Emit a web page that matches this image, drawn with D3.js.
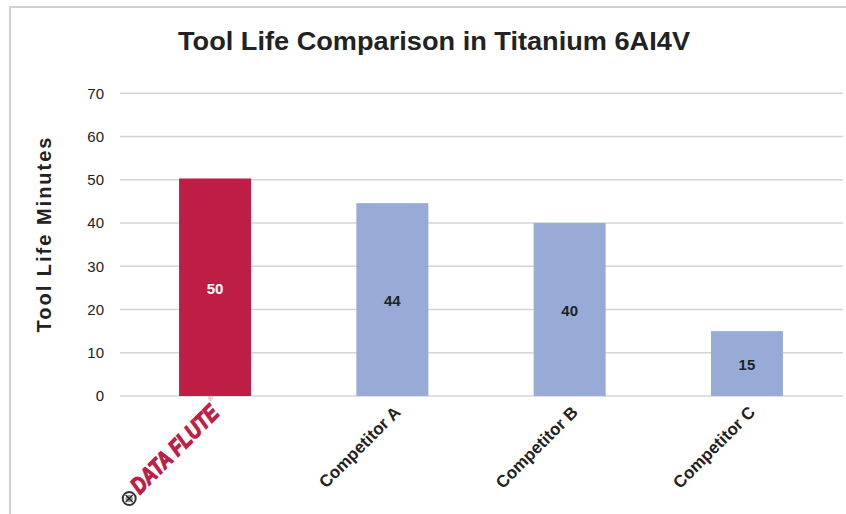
<!DOCTYPE html>
<html>
<head>
<meta charset="utf-8">
<script src="https://cdn.jsdelivr.net/npm/d3@7"></script>
<style>
  html, body { margin: 0; padding: 0; background: #fff; }
  svg { display: block; font-family: "Liberation Sans", Arial, sans-serif; }
</style>
</head>
<body>
<div id="container"></div>
<script>
const categories = ["DATA FLUTE", "Competitor A", "Competitor B", "Competitor C"];
const values = [50.3, 44.6, 40, 15];
const valueLabels = ["50", "44", "40", "15"];
const yTicks = [0, 10, 20, 30, 40, 50, 60, 70];

const width = 846;
const height = 514;
const red = "#be1d46";
const blue = "#97abd6";

const svg = d3.select("#container")
  .append("svg")
  .attr("width", width)
  .attr("height", height);

// frame
svg.append("path")
  .attr("d", "M10,514 V7 H846")
  .attr("fill", "none")
  .attr("stroke", "#d2d2d2")
  .attr("stroke-width", 2);

const x = d3.scaleBand()
  .domain(categories)
  .range([126.4, 835.6])
  .padding(0);

const y = d3.scaleLinear()
  .domain([0, 70])
  .range([396, 93.3]);

// gridlines
svg.append("g")
  .selectAll("line")
  .data(yTicks)
  .join("line")
  .attr("x1", 120)
  .attr("x2", 843)
  .attr("y1", d => y(d))
  .attr("y2", d => y(d))
  .attr("stroke", "#d4d4d4")
  .attr("stroke-width", 1.5);

// y tick labels
svg.append("g")
  .selectAll("text")
  .data(yTicks)
  .join("text")
  .attr("x", 104)
  .attr("y", d => y(d))
  .attr("dy", "0.36em")
  .attr("text-anchor", "end")
  .attr("font-size", 15)
  .attr("fill", "#222")
  .text(d => d);

// bars
const bw = x.bandwidth() * 0.406;
svg.append("g")
  .selectAll("rect")
  .data(values)
  .join("rect")
  .attr("x", (d, i) => x(categories[i]) + (x.bandwidth() - bw) / 2)
  .attr("y", d => y(d))
  .attr("width", bw)
  .attr("height", d => y(0) - y(d))
  .attr("fill", (d, i) => i === 0 ? red : blue);

// value labels
svg.append("g")
  .selectAll("text")
  .data(values)
  .join("text")
  .attr("x", (d, i) => x(categories[i]) + x.bandwidth() / 2)
  .attr("y", d => (y(d) + y(0)) / 2 + 1)
  .attr("dy", "0.36em")
  .attr("text-anchor", "middle")
  .attr("font-size", 15)
  .attr("font-weight", "bold")
  .attr("fill", (d, i) => i === 0 ? "#fff" : "#222")
  .text((d, i) => valueLabels[i]);

// x labels (rotated)
const xl = svg.append("g");
categories.forEach((c, i) => {
  const cx = x(c) + x.bandwidth() / 2;
  if (i === 0) {
    // logo-style label for the first bar
    const g = xl.append("g")
      .attr("transform", `translate(${cx - 1},${y(0) + 12}) rotate(-45)`);
    g.append("text")
      .attr("text-anchor", "end")
      .attr("font-size", 23)
      .attr("font-weight", "900")
      .attr("font-style", "italic")
      .attr("fill", red)
      .attr("stroke", red)
      .attr("stroke-width", 1.3)
      .attr("textLength", 114)
      .attr("lengthAdjust", "spacingAndGlyphs")
      .attr("y", 9)
      .text("DATA FLUTE");
    g.append("text")
      .attr("x", 2)
      .attr("y", -7)
      .attr("font-size", 7)
      .attr("fill", "#e08aa0")
      .text("®");
    const icon = g.append("g").attr("transform", "translate(-124,4)");
    icon.append("circle").attr("r", 6.5).attr("fill", "#fff").attr("stroke", "#333").attr("stroke-width", 2);
    icon.append("circle").attr("r", 3.5).attr("fill", "#999");
    icon.append("path").attr("d", "M-5,0 H5 M0,-5 V5").attr("stroke", "#222").attr("stroke-width", 1.2);
  } else {
    const g = xl.append("g")
      .attr("transform", `translate(${cx + 5},${y(0) + 13}) rotate(-45)`);
    g.append("text")
      .attr("text-anchor", "end")
      .attr("font-size", 17)
      .attr("font-weight", "bold")
      .attr("fill", "#222")
      .attr("y", 6)
      .text(c);
  }
});

// title
svg.append("text")
  .attr("x", 434)
  .attr("y", 50)
  .attr("text-anchor", "middle")
  .attr("font-size", 25)
  .attr("font-weight", "bold")
  .attr("fill", "#222")
  .attr("textLength", 512)
  .attr("lengthAdjust", "spacingAndGlyphs")
  .text("Tool Life Comparison in Titanium 6AI4V");

// y axis title
svg.append("text")
  .attr("transform", "translate(51,234) rotate(-90)")
  .attr("text-anchor", "middle")
  .attr("font-size", 20)
  .attr("font-weight", "bold")
  .attr("letter-spacing", 2)
  .attr("fill", "#222")
  .text("Tool Life Minutes");
</script>
</body>
</html>
